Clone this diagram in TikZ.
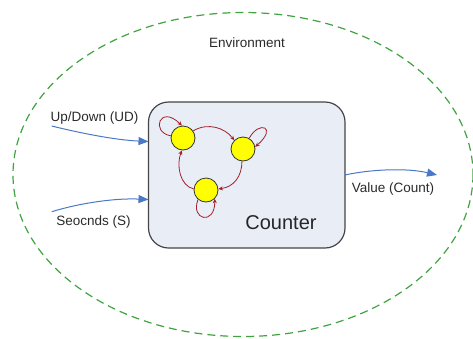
\documentclass[tikz,border=0pt]{standalone}
\usepackage{fontspec}
\setmainfont{Liberation Sans}
\usetikzlibrary{arrows.meta}
\definecolor{envgreen}{HTML}{3FA33F}
\definecolor{flowblue}{HTML}{4A78C8}
\definecolor{boxfill}{HTML}{E9EDF6}
\definecolor{boxline}{HTML}{454545}
\definecolor{transred}{HTML}{A3202A}
\definecolor{stateyellow}{HTML}{FFFF00}
\definecolor{labelgray}{HTML}{2A2A2A}
\tikzset{
  envline/.style={draw=envgreen, line width=1.2pt, dash pattern=on 8pt off 5pt},
  counterbox/.style={draw=boxline, fill=boxfill, line width=1.2pt, rounded corners=20pt},
  statenode/.style={circle, draw=black!80, fill=stateyellow, line width=0.8pt, minimum size=24pt, inner sep=0pt},
  transition/.style={draw=transred, line width=0.8pt, -{Stealth[length=4.5pt,width=4pt]}},
  flow/.style={draw=flowblue, line width=1pt, -{Triangle[length=10pt,width=8pt]}},
  lbl/.style={text=labelgray, font=\fontsize{13.5}{15}\selectfont, inner sep=0pt}
}
\begin{document}
\begin{tikzpicture}[x=1pt,y=-1pt]
  \useasboundingbox (0,0) rectangle (473,338);

  % environment boundary
  \draw[envline] (243,174.5) ellipse [x radius=230, y radius=162];
  \node[lbl] (env) at (247,43) {Environment};

  % counter block
  \draw[counterbox] (148.5,102) rectangle (345,248);
  \coordinate (boxleftA) at (148.5,141.5);
  \coordinate (boxleftB) at (148.5,199.5);
  \coordinate (boxright) at (345,175);
  \node[text=black!85, font=\fontsize{20}{22}\selectfont, inner sep=0pt] (ctr) at (281,223) {Counter};

  % states
  \node[statenode] (c1) at (183,138) {};
  \node[statenode] (c2) at (243,149) {};
  \node[statenode] (c3) at (206,190) {};

  % transitions between states
  \draw[transition] (c1.35) .. controls (208,122) and (225,128) .. (c2.135);
  \draw[transition] (c2.-95) .. controls (242,176) and (234,187) .. (c3.5);
  \draw[transition] (c3.175) .. controls (180,186) and (176,165) .. (c1.-95);

  % self loops
  \draw[transition] (c1.170) .. controls (150,132) and (160,104) .. (c1.95);
  \draw[transition] (c2.60) .. controls (259,120) and (278,127) .. (c2.10);
  \draw[transition] (c3.230) .. controls (190,220) and (215,226) .. (c3.-45);

  % inputs
  \coordinate (udstart) at (51.7,126);
  \coordinate (sstart) at (51.7,211.7);
  \draw[flow] (udstart) .. controls (80,133) and (115,140) .. (boxleftA);
  \draw[flow] (sstart) .. controls (80,203) and (115,198) .. (boxleftB);
  \node[lbl] (udlbl) at (94.5,118) {Up/Down (UD)};
  \node[lbl] (slbl) at (93.5,222) {Seocnds (S)};

  % output
  \coordinate (outend) at (437,175);
  \draw[flow] (boxright) .. controls (372,169) and (408,168) .. (outend);
  \node[lbl] (vlbl) at (393,189) {Value (Count)};
\end{tikzpicture}
\end{document}
